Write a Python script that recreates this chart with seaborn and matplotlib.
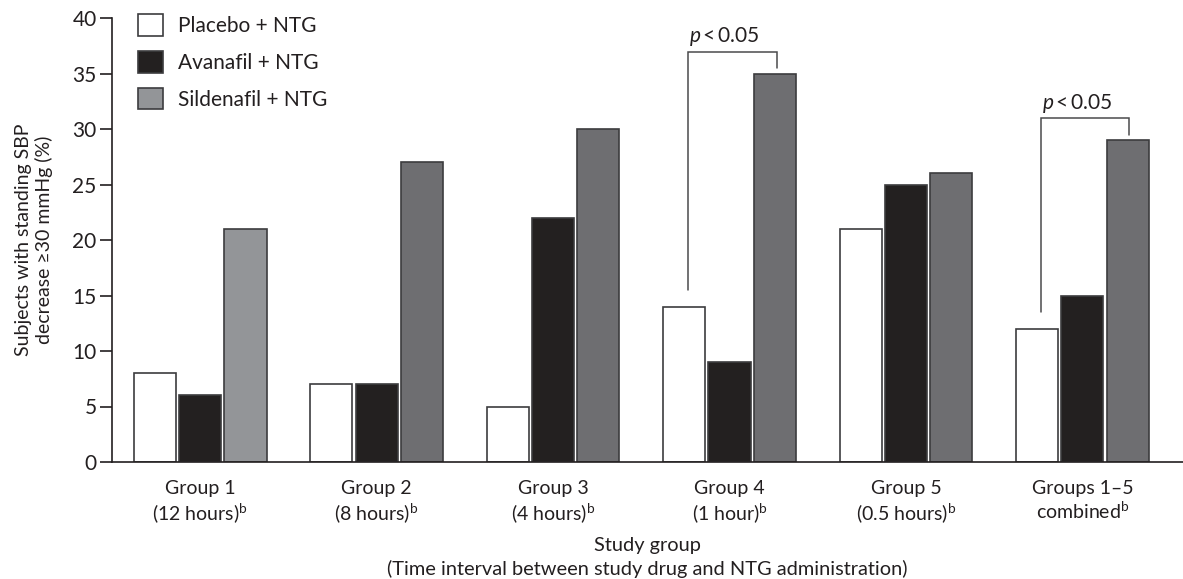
import matplotlib
matplotlib.use("Agg")
import matplotlib.pyplot as plt
import seaborn as sns
import pandas as pd

# Study groups (x-axis) and the three treatment arms
groups = ["Group 1", "Group 2", "Group 3", "Group 4", "Group 5", "Groups 1\u20135"]
group_labels = [
    "Group 1\n(12 hours)$^{\\mathrm{b}}$",
    "Group 2\n(8 hours)$^{\\mathrm{b}}$",
    "Group 3\n(4 hours)$^{\\mathrm{b}}$",
    "Group 4\n(1 hour)$^{\\mathrm{b}}$",
    "Group 5\n(0.5 hours)$^{\\mathrm{b}}$",
    "Groups 1\u20135\ncombined$^{\\mathrm{b}}$",
]
treatments = ["Placebo + NTG", "Avanafil + NTG", "Sildenafil + NTG"]

# Percentage of subjects with standing SBP decrease >= 30 mmHg
placebo = [8, 7, 5, 14, 21, 12]
avanafil = [6, 7, 22, 9, 25, 15]
sildenafil = [21, 27, 30, 35, 26, 29]

# Comparisons marked significant (placebo vs sildenafil)
significant_groups = ["Group 4", "Groups 1\u20135"]
significance_text = "$p$\u2009<\u20090.05"

y_ticks = [0, 5, 10, 15, 20, 25, 30, 35, 40]

df = pd.DataFrame({
    "group": groups * 3,
    "value": placebo + avanafil + sildenafil,
    "treatment": [t for t in treatments for _ in groups],
})

ink = "#231f20"
edge = "#3c3c3e"
colors = ["#ffffff", "#231f20", "#6d6e71"]
light_grey = "#939598"

sns.set_theme(style="white")
plt.rcParams["font.family"] = ["Lato", "DejaVu Sans"]
plt.rcParams["mathtext.fontset"] = "custom"
plt.rcParams["mathtext.rm"] = "Lato"
plt.rcParams["mathtext.it"] = "Lato:italic"
plt.rcParams["text.color"] = ink
plt.rcParams["axes.labelcolor"] = ink
plt.rcParams["xtick.color"] = ink
plt.rcParams["ytick.color"] = ink

fig = plt.figure(figsize=(11.83, 5.79), dpi=100)
ax = fig.add_axes([112 / 1183, 117 / 579, 1 - 112 / 1183, (462 - 18) / 579])

sns.barplot(
    data=df, x="group", y="value", hue="treatment",
    order=groups, hue_order=treatments, palette=colors,
    width=0.77, gap=0.07, edgecolor=edge, linewidth=1.2,
    errorbar=None, ax=ax, legend=True,
)

# first-interval sildenafil bar is drawn in the lighter grey
ax.containers[2][0].set_facecolor(light_grey)

ax.set_xlim(-0.5, 5.57)
ax.set_ylim(0, 40)
ax.set_yticks(y_ticks)
ax.set_xticks(range(len(groups)))
ax.set_xticklabels(group_labels, fontsize=14, linespacing=1.2)
ax.set_xticks([i - 0.5 for i in range(len(groups))], minor=True)
ax.tick_params(axis="x", which="major", length=0, pad=13)
ax.tick_params(axis="x", which="minor", length=9, width=1.2, color=ink, direction="out")
ax.tick_params(axis="y", length=9, width=1.2, color=ink, direction="out", labelsize=15, pad=2)
ax.tick_params(left=True, bottom=True)

sns.despine(ax=ax)
for side in ("left", "bottom"):
    ax.spines[side].set_color(ink)
    ax.spines[side].set_linewidth(1.2)

ax.set_xlabel("Study group\n(Time interval between study drug and NTG administration)",
              fontsize=14.4, linespacing=1.35, labelpad=9)
ax.set_ylabel("Subjects with standing SBP\ndecrease \u226530 mmHg (%)",
              fontsize=14, linespacing=1.2, labelpad=14)

# significance brackets between the placebo and sildenafil bars
slot = 0.77 / 3
for g in significant_groups:
    i = groups.index(g)
    p_val = placebo[i]
    s_val = sildenafil[i]
    x_left = i - slot + 0.02
    x_right = i + slot + 0.01
    top = s_val + 1.95
    ax.plot([x_left, x_left, x_right, x_right],
            [p_val + 1.5, top, top, s_val + 0.5],
            color="#4a4a4c", lw=1.1, solid_joinstyle="miter", clip_on=False)
    ax.text(i - 0.03, top + 0.35, significance_text, ha="center", va="bottom", fontsize=15)

handles, labels = ax.get_legend_handles_labels()
leg = ax.legend(
    handles, labels, loc="upper left", bbox_to_anchor=(26 / 1071, 1.008),
    frameon=False, fontsize=15, handlelength=1.2, handleheight=1.2,
    labelspacing=0.72, handletextpad=0.7, borderaxespad=0, borderpad=0,
)
leg.legend_handles[2].set_facecolor(light_grey)

fig.savefig("out.png", dpi=100)
